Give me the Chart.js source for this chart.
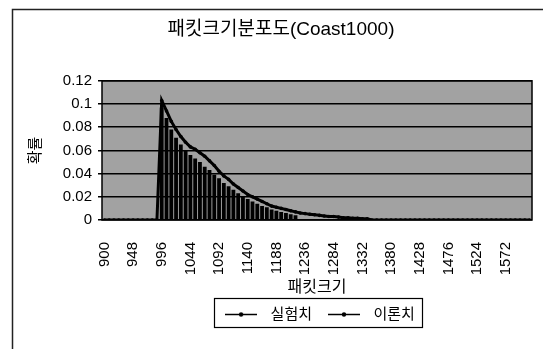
<!DOCTYPE html>
<html>
<head>
<meta charset="utf-8">
<script src="https://cdn.jsdelivr.net/npm/chart.js@4"></script>
<style>
  html, body { margin: 0; padding: 0; background: #fff; }
  #wrap { width: 543px; height: 349px; }
</style>
</head>
<body>
<div id="wrap"><canvas id="myChart" width="543" height="349"></canvas></div>
<script>
// packet size (bytes), one category every 8
const sizes = [
  900, 908, 916, 924, 932, 940, 948, 956, 964, 972, 980, 988,
  996, 1004, 1012, 1020, 1028, 1036, 1044, 1052, 1060, 1068, 1076, 1084,
  1092, 1100, 1108, 1116, 1124, 1132, 1140, 1148, 1156, 1164, 1172, 1180,
  1188, 1196, 1204, 1212, 1220, 1228, 1236, 1244, 1252, 1260, 1268, 1276,
  1284, 1292, 1300, 1308, 1316, 1324, 1332, 1340, 1348, 1356, 1364, 1372,
  1380, 1388, 1396, 1404, 1412, 1420, 1428, 1436, 1444, 1452, 1460, 1468,
  1476, 1484, 1492, 1500, 1508, 1516, 1524, 1532, 1540, 1548, 1556, 1564,
  1572, 1580, 1588, 1596, 1604, 1612
]

// 실험치 (measured)
const measured = [
  0, 0, 0, 0, 0, 0, 0, 0, 0, 0, 0, 0,
  0.097, 0.088, 0.078, 0.071, 0.065, 0.060, 0.056, 0.053, 0.050, 0.046,
  0.043, 0.039, 0.036, 0.032, 0.029, 0.026, 0.023, 0.020, 0.018, 0.016,
  0.014, 0.012, 0.011, 0.009, 0.008, 0.007, 0.006, 0.005, 0.004,
  0, 0, 0, 0, 0, 0, 0, 0, 0, 0, 0, 0, 0, 0, 0, 0, 0, 0, 0, 0,
  0, 0, 0, 0, 0, 0, 0, 0, 0, 0, 0, 0, 0, 0, 0, 0, 0, 0, 0, 0,
  0, 0, 0, 0, 0, 0, 0, 0, 0
]

// 이론치 (theory)
const theory = [
  0, 0, 0, 0, 0, 0, 0, 0, 0, 0, 0, 0,
  0.103, 0.094, 0.085, 0.078, 0.072, 0.067, 0.063, 0.061, 0.058, 0.055,
  0.051, 0.047, 0.042, 0.038, 0.035, 0.031, 0.028, 0.025, 0.022, 0.020,
  0.018, 0.016, 0.014, 0.012, 0.011, 0.010, 0.009, 0.008, 0.007, 0.006,
  0.0055, 0.005, 0.0045, 0.004, 0.0035, 0.003, 0.003, 0.0025, 0.002, 0.002,
  0.0015, 0.0015, 0.001, 0.001,
  0, 0, 0, 0, 0, 0, 0, 0, 0, 0, 0, 0, 0, 0, 0, 0, 0, 0, 0, 0,
  0, 0, 0, 0, 0, 0, 0, 0, 0, 0, 0, 0, 0, 0
]

const seriesNames = ['실험치', '이론치']
const yTicks = [0, 0.02, 0.04, 0.06, 0.08, 0.1, 0.12]

const FONT = "'Liberation Sans', 'Noto Sans CJK KR', sans-serif"

// little legend icon: line with a dot in the middle
function legendIcon() {
  const c = document.createElement('canvas')
  c.width = 32
  c.height = 7
  const g = c.getContext('2d')
  g.strokeStyle = '#000'
  g.lineWidth = 1.5
  g.beginPath()
  g.moveTo(0, 3.5)
  g.lineTo(32, 3.5)
  g.stroke()
  g.fillStyle = '#000'
  g.beginPath()
  g.arc(16, 3.5, 2.2, 0, Math.PI * 2)
  g.fill()
  return c
}
const icon = legendIcon()

const frame = {
  id: 'frame',
  afterLayout(chart) {
    // legend sits centred under the plot area, not the whole canvas
    const lg = chart.legend
    const a = chart.chartArea
    const shift = (a.left + a.right) / 2 - (lg.left + lg.right) / 2
    lg.left += shift
    lg.right += shift
    // title is centred on the framed chart, a bit right of the canvas middle
    const tb = chart.titleBlock
    tb.left += 8
    tb.right += 8
  },
  beforeDraw(chart) {
    const {ctx, chartArea: a} = chart
    ctx.save()
    ctx.fillStyle = '#fff'
    ctx.fillRect(0, 0, chart.width, chart.height)
    ctx.fillStyle = '#a2a2a2'
    ctx.fillRect(a.left, a.top, a.right - a.left, a.bottom - a.top)
    // outer border
    ctx.strokeStyle = '#222'
    ctx.lineWidth = 1.5
    ctx.beginPath()
    ctx.moveTo(12.5, 349)
    ctx.lineTo(12.5, 9.5)
    ctx.lineTo(543, 9.5)
    ctx.stroke()
    ctx.restore()
  },
  afterDraw(chart) {
    const {ctx, chartArea: a} = chart
    ctx.save()
    ctx.strokeStyle = '#000'
    ctx.lineWidth = 1.5
    ctx.strokeRect(a.left, a.top, a.right - a.left, a.bottom - a.top)
    // legend box
    const boxes = chart.legend.legendHitBoxes
    if (boxes && boxes.length) {
      let l = Infinity, r = -Infinity, t = Infinity, b = -Infinity
      boxes.forEach(h => {
        l = Math.min(l, h.left); r = Math.max(r, h.left + h.width)
        t = Math.min(t, h.top); b = Math.max(b, h.top + h.height)
      })
      ctx.lineWidth = 1.2
      ctx.strokeRect(Math.round(l - 5) + 0.5, Math.round(t - 9) + 0.5, Math.round(r - l + 12), Math.round(b - t + 14))
    }
    ctx.restore()
  }
}

Chart.defaults.color = '#000'
Chart.defaults.font.family = FONT

new Chart(document.getElementById('myChart'), {
  type: 'bar',
  data: {
    labels: sizes,
    datasets: [{
      label: seriesNames[0],
      data: measured,
      backgroundColor: '#000',
      borderWidth: 0,
      barPercentage: 0.8,
      categoryPercentage: 1
    }, {
      type: 'line',
      label: seriesNames[1],
      data: theory,
      borderColor: '#000',
      backgroundColor: '#000',
      borderWidth: 3,
      pointRadius: 1.8,
      pointBackgroundColor: '#000',
      pointBorderWidth: 0,
      tension: 0
    }]
  },
  options: {
    responsive: false,
    animation: false,
    layout: { padding: { left: 14, right: 11, top: 0, bottom: 17 } },
    plugins: {
      tooltip: { enabled: false },
      title: {
        display: true,
        text: '패킷크기분포도(Coast1000)',
        font: { size: 19, weight: 'normal', family: FONT },
        padding: { top: 18, bottom: 40 }
      },
      legend: {
        position: 'bottom',
        labels: {
          usePointStyle: true,
          pointStyleWidth: 44,
          padding: 10,
          font: { size: 15, family: FONT },
          generateLabels: chart => seriesNames.map((n, i) => ({
            text: n,
            pointStyle: icon,
            fillStyle: '#000',
            strokeStyle: '#000',
            lineWidth: 0,
            datasetIndex: i
          }))
        }
      }
    },
    scales: {
      x: {
        offset: true,
        grid: { display: true, drawOnChartArea: false, drawTicks: true, tickLength: 14, color: 'rgba(0,0,0,0)' },
        border: { display: false },
        afterFit: s => {
          s.height = 77
          s.paddingLeft = 0
          s.paddingRight = 0
        },
        ticks: {
          autoSkip: false,
          minRotation: 90,
          maxRotation: 90,
          padding: 8,
          font: { size: 15 },
          callback: (v, i) => (i % 6 === 0 ? String(sizes[i]) : '')
        },
        title: {
          display: true,
          text: '패킷크기',
          font: { size: 16, family: FONT },
          padding: { top: 0, bottom: 0 }
        }
      },
      y: {
        min: 0,
        max: 0.12,
        afterFit: s => { s.width = 88 },
        afterBuildTicks: s => { s.ticks = yTicks.map(v => ({ value: v })) },
        grid: { color: '#000', lineWidth: 1.5, tickLength: 4 },
        border: { display: false },
        ticks: {
          padding: 6,
          font: { size: 15 },
          callback: v => String(+v.toFixed(2))
        },
        title: {
          display: true,
          text: '확률',
          font: { size: 15, family: FONT },
          padding: { top: 13, bottom: 0 }
        }
      }
    }
  },
  plugins: [frame]
})
</script>
</body>
</html>
